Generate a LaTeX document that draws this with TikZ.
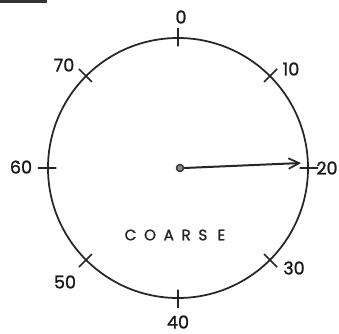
\documentclass[tikz,border=0pt]{standalone}
\usepackage{fontspec}
\setsansfont{Poppins}[FakeBold=1.2]
\usetikzlibrary{arrows.meta, calc}

\begin{document}
\begin{tikzpicture}[
    x=0.03cm, y=-0.03cm,
    dialring/.style = {circle, draw=black!85, line width=1.5pt,
                       minimum size=7.8cm, inner sep=0pt},
    tickmark/.style = {line width=1.4pt, draw=black!85},
    hubdot/.style   = {circle, draw=black!80, fill=black!45, line width=1.2pt,
                       minimum size=6pt, inner sep=0pt},
    pointer/.style  = {line width=1.7pt, draw=black!85,
                       -{Straight Barb[length=9pt, width=9pt, line width=1.5pt]}},
    scalelbl/.style = {font=\sffamily\fontsize{15}{17}\selectfont, text=black!90},
    dialname/.style = {font=\sffamily\fontsize{13}{15}\selectfont, text=black!85},
]

%% ============================================================
%% FRAME
%% ============================================================
\useasboundingbox (0,0) rectangle (339,333);
\fill[black!80] (0,0) rectangle (47,2.5);

%% ============================================================
%% DIAL AND TICKS
%% ============================================================
\def\xC{178}
\def\yC{168}

\node[dialring] (dial) at (\xC, \yC) {};
\foreach \ang in {0,45,...,315}
    \draw[tickmark] ($(dial.center)!0.93!(dial.\ang)$) -- ($(dial.center)!1.07!(dial.\ang)$);

%% ============================================================
%% SCALE LABELS
%% ============================================================
\node[scalelbl] (l0)  at (181, 17)  {0};
\node[scalelbl] (l10) at (291, 69)  {10};
\node[scalelbl] (l20) at (327, 168) {20};
\node[scalelbl] (l30) at (294, 268) {30};
\node[scalelbl] (l40) at (178, 322) {40};
\node[scalelbl] (l50) at (65, 282)  {50};
\node[scalelbl] (l60) at (21, 167)  {60};
\node[scalelbl] (l70) at (64, 65)   {70};

%% ============================================================
%% POINTER
%% ============================================================
\node[hubdot] (hub) at (180, 168) {};
\coordinate (tip) at (301, 163);
\draw[pointer] (hub.east) -- (tip);

\node[dialname] (name) at (175, 235) {C\,\,\,O\,\,\,A\,\,\,R\,\,\,S\,\,\,\,E};

\end{tikzpicture}
\end{document}
